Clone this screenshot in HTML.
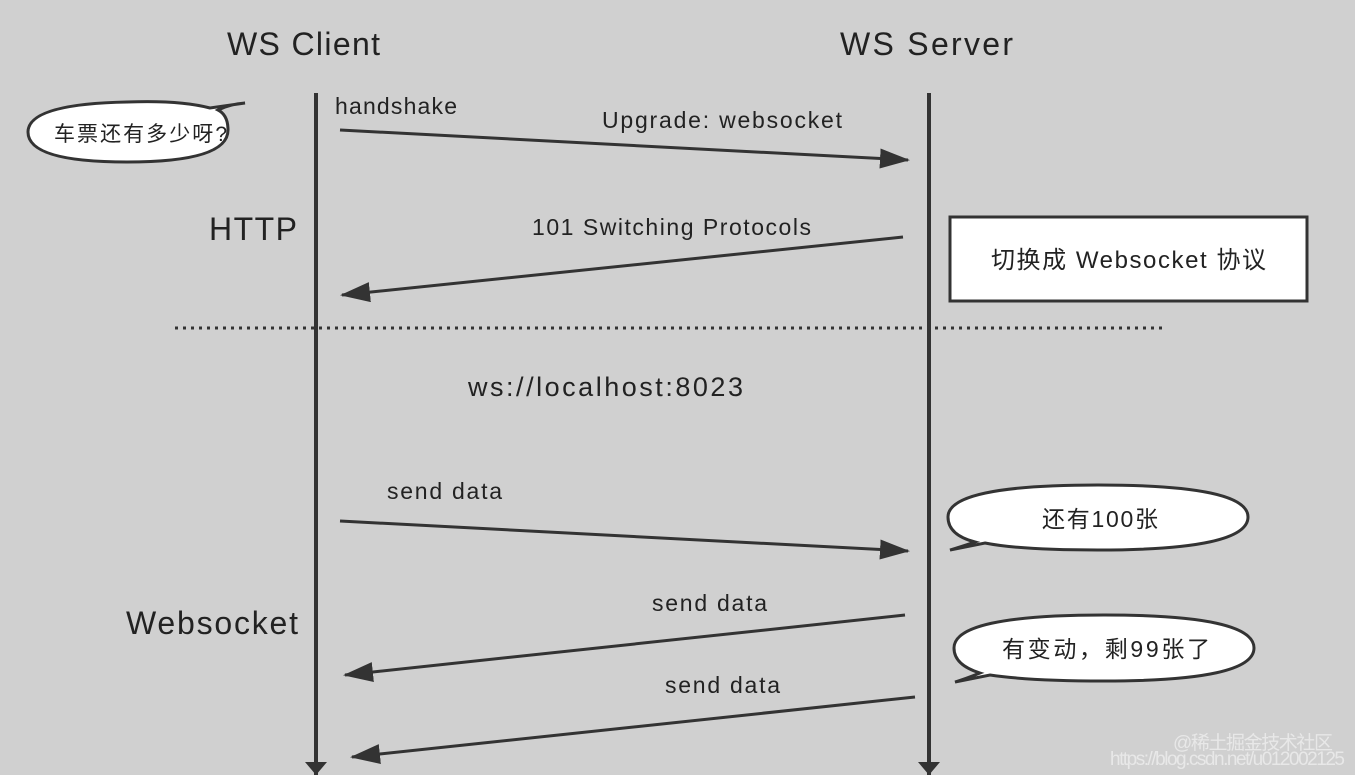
<!DOCTYPE html>
<html><head><meta charset="utf-8"><style>
html,body{margin:0;padding:0;background:#d0d0d0;}
svg{display:block;}
text{font-family:"Liberation Sans","Noto Sans CJK SC",sans-serif;fill:#222;}
</style></head><body>
<svg width="1355" height="775" viewBox="0 0 1355 775">
<rect width="1355" height="775" fill="#d0d0d0"/>
<defs><marker id="a" markerWidth="30" markerHeight="20" refX="28" refY="10" orient="auto" markerUnits="userSpaceOnUse"><path d="M0,0 L30,10 L0,20 Z" fill="#333"/></marker></defs>
<text x="227" y="55" font-size="32" textLength="153">WS Client</text>
<text x="840" y="55" font-size="32" textLength="173">WS Server</text>
<line x1="316" y1="93" x2="316" y2="775" stroke="#333" stroke-width="4"/>
<line x1="929" y1="93" x2="929" y2="775" stroke="#333" stroke-width="4"/>
<path d="M305,762 L327,762 L316,775 Z" fill="#333"/>
<path d="M918,762 L940,762 L929,775 Z" fill="#333"/>
<g stroke="#333" stroke-width="3" fill="none">
<line x1="340" y1="130" x2="908" y2="160" marker-end="url(#a)"/>
<line x1="903" y1="237" x2="342" y2="295" marker-end="url(#a)"/>
<line x1="340" y1="521" x2="908" y2="551" marker-end="url(#a)"/>
<line x1="905" y1="615" x2="345" y2="675" marker-end="url(#a)"/>
<line x1="915" y1="697" x2="352" y2="757" marker-end="url(#a)"/>
<line x1="175" y1="328" x2="1165" y2="328" stroke-dasharray="3,5" stroke-width="3"/>
</g>
<text x="335" y="114" font-size="23" textLength="122">handshake</text>
<text x="602" y="128" font-size="23" textLength="240">Upgrade: websocket</text>
<text x="532" y="235" font-size="23" textLength="279">101 Switching Protocols</text>
<text x="209" y="240" font-size="32" textLength="88">HTTP</text>
<text x="468" y="396" font-size="27" textLength="275">ws://localhost:8023</text>
<text x="387" y="499" font-size="23" textLength="115">send data</text>
<text x="652" y="611" font-size="23" textLength="115">send data</text>
<text x="665" y="693" font-size="23" textLength="115">send data</text>
<text x="126" y="634" font-size="32" textLength="172">Websocket</text>
<rect x="950" y="217" width="357" height="84" fill="#fff" stroke="#333" stroke-width="3"/>
<text x="991" y="268" font-size="24" textLength="275">切换成 Websocket 协议</text>
<g fill="#fff" stroke="#333" stroke-width="3">
<path d="M210,108 Q180,100 127,102 Q28,104 28,132 Q28,162 127,162 Q228,162 228,130 Q228,115 218,110 Q230,104 245,103 Z"/>
<path d="M985,543 Q1020,550 1098,550 Q1248,550 1248,517 Q1248,485 1098,485 Q948,485 948,517 Q948,535 975,542 Q960,547 950,550 Z"/>
<path d="M990,675 Q1030,681 1104,681 Q1254,681 1254,648 Q1254,615 1104,615 Q954,615 954,648 Q954,665 980,673 Q965,679 955,682 Z"/>
</g>
<text x="54" y="141" font-size="21" textLength="173">车票还有多少呀?</text>
<text x="1042" y="527" font-size="23" textLength="116">还有100张</text>
<text x="1002" y="657" font-size="23" textLength="208">有变动，剩99张了</text>
<text x="1173" y="749" font-size="19" textLength="160" style="fill:#eee;opacity:.8">@稀土掘金技术社区</text>
<text x="1110" y="765" font-size="19" textLength="235" style="fill:#eee;opacity:.8">https://blog.csdn.net/u012002125</text>
</svg>
</body></html>
